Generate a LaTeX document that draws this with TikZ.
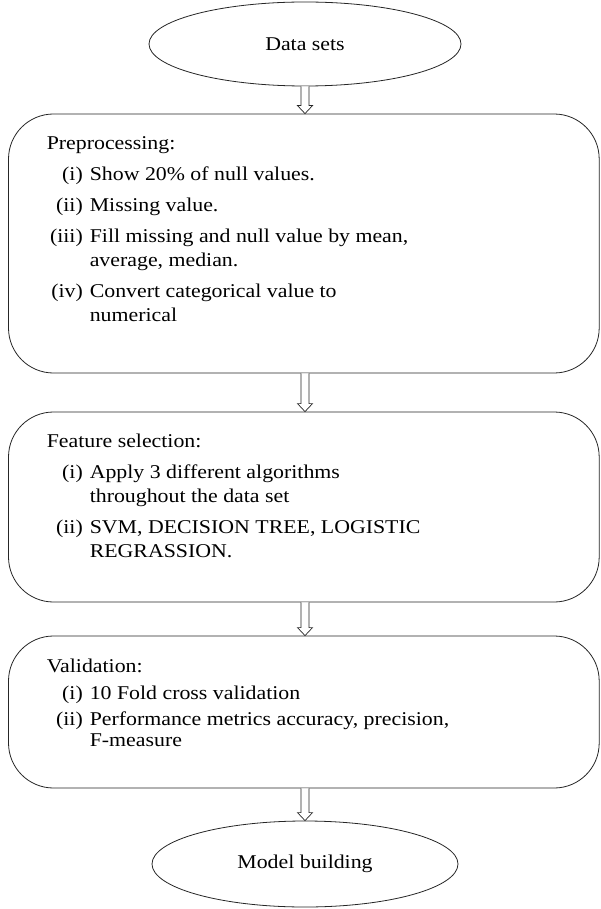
\documentclass[tikz,border=0pt]{standalone}
\usepackage{fontspec}
\setmainfont[FakeStretch=1.12]{Liberation Serif}
\usetikzlibrary{shapes.geometric,calc}
\tikzset{
  ovalbox/.style={draw=black!85, ellipse, line width=0.8pt, inner sep=0pt, font=\fontsize{19.5}{24}\selectfont},
  roundbox/.style={draw=black!85, rectangle, rounded corners=45pt, line width=0.8pt, minimum width=590.7pt, inner sep=0pt},
  boxtext/.style={anchor=base west, inner sep=0pt, align=left},
  hollow/.style={draw=black!85, line width=0.7pt, fill=white},
}
\newcommand\lbl[1]{\makebox[36pt][r]{#1}\hspace{7pt}}
\newcommand\cont{\hspace{43pt}}
\newcommand\hollowarrow[2]{%
  \path let \p0=(ds.south), \p1=(#1.south), \p2=(#2.north) in
    [hollow] (\x0-4pt,\y1) -- (\x0-4pt,\y2+8pt) -- (\x0-7.5pt,\y2+8pt) -- (\x0,\y2)
    -- (\x0+7.5pt,\y2+8pt) -- (\x0+4pt,\y2+8pt) -- (\x0+4pt,\y1);}
\begin{document}
\begin{tikzpicture}[x=1pt,y=-1pt]
\useasboundingbox (0,0) rectangle (600,909);
\fill[white] (0,0) rectangle (600,909);

% top ellipse
\node[ovalbox, minimum width=312pt, minimum height=84pt] (ds) at (305,44) {Data sets};

% boxes
\node[roundbox, minimum height=259pt] (pre) at (303.85,243.5) {};
\node[roundbox, minimum height=190pt] (fs) at (303.85,507) {};
\node[roundbox, minimum height=152pt] (val) at (303.85,712) {};

% bottom ellipse
\node[ovalbox, minimum width=306pt, minimum height=86pt] (mb) at (305,864) {Model building};

% texts
\node[boxtext, font=\fontsize{19.5}{24}\selectfont] (pretxt) at ([xshift=38.5pt,yshift=-36pt]pre.north west) {%
\begin{tabular}[t]{@{}l@{}}
Preprocessing:\\[7pt]
\lbl{(i)}Show 20\% of null values.\\[7pt]
\lbl{(ii)}Missing value.\\[7pt]
\lbl{(iii)}Fill missing and null value by mean,\\
\cont average, median.\\[7pt]
\lbl{(iv)}Convert categorical value to\\
\cont numerical
\end{tabular}};

\node[boxtext, font=\fontsize{19.5}{24}\selectfont] (fstxt) at ([xshift=38.5pt,yshift=-36pt]fs.north west) {%
\begin{tabular}[t]{@{}l@{}}
Feature selection:\\[7pt]
\lbl{(i)}Apply 3 different algorithms\\
\cont throughout the data set\\[7pt]
\lbl{(ii)}SVM, DECISION TREE, LOGISTIC\\
\cont REGRASSION.
\end{tabular}};

\node[boxtext, font=\fontsize{19.5}{21}\selectfont] (valtxt) at ([xshift=38.5pt,yshift=-37pt]val.north west) {%
\begin{tabular}[t]{@{}l@{}}
Validation:\\[6pt]
\lbl{(i)}10 Fold cross validation\\[5pt]
\lbl{(ii)}Performance metrics accuracy, precision,\\
\cont F-measure
\end{tabular}};

% arrows
\hollowarrow{ds}{pre}
\hollowarrow{pre}{fs}
\hollowarrow{fs}{val}
\hollowarrow{val}{mb}
\end{tikzpicture}
\end{document}
